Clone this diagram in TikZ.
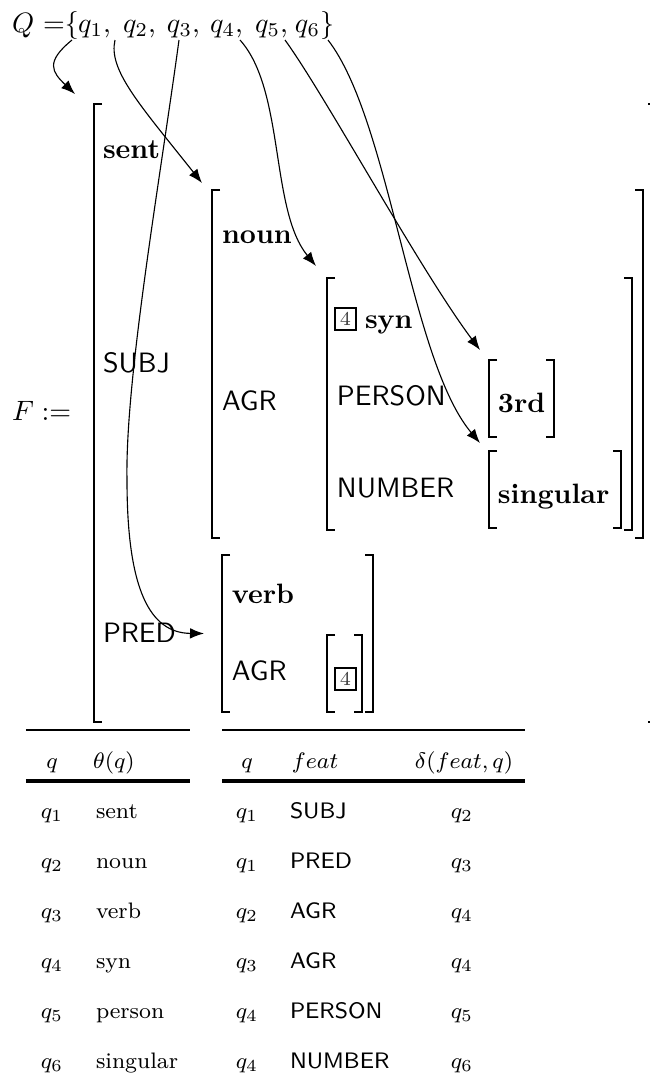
\documentclass[tikz,border=0pt]{standalone}
\usetikzlibrary{arrows.meta,fit}
\newcommand\avmnode[5]{\node[fit={(#2,#3)(#4,#5)},inner sep=0pt] (#1) {};}
\newcommand\lbrk[1]{\draw[brk] ([shift={(8,0)}]#1.north west) -- (#1.north west) -- (#1.south west) -- ([shift={(8,0)}]#1.south west);}
\newcommand\rbrk[1]{\draw[brk] ([shift={(-8,0)}]#1.north east) -- (#1.north east) -- (#1.south east) -- ([shift={(-8,0)}]#1.south east);}
\begin{document}
\begin{tikzpicture}[x=0.357pt,y=-0.357pt,
 every node/.style={inner sep=0pt, outer sep=0pt},
 lbl/.style={anchor=base west},
 sf/.style={anchor=base west, font=\sffamily},
 bfl/.style={anchor=base west, font=\bfseries},
 tag/.style={draw, line width=0.75pt, minimum width=7.6pt, minimum height=8pt, font=\scriptsize, text=black!75},
 brk/.style={line width=0.75pt},
 arr/.style={line width=0.4pt, -{Latex[length=5pt,width=3.8pt]}},
 tab/.style={font=\footnotesize, anchor=base},
 tabl/.style={font=\footnotesize, anchor=base west},
 tsf/.style={font=\footnotesize\sffamily, anchor=base west},
 rulethin/.style={line width=0.8pt},
 rulethick/.style={line width=1.1pt}]
\useasboundingbox (0,0) rectangle (650,1082);

% top line
\node[lbl] (Qs) at (12,32) {$Q$};
\node[lbl] (eqs) at (43,32) {$=$$\{$};
\node[lbl] (qa) at (78,32) {$q_1$,};
\node[lbl] (qb) at (123,32) {$q_2$,};
\node[lbl] (qc) at (167,32) {$q_3$,};
\node[lbl] (qd) at (210,32) {$q_4$,};
\node[lbl] (qe) at (255,32) {$q_5$,};
\node[lbl] (qf) at (295,32) {$q_6\}$};

% matrices
\avmnode{m1}{94}{104}{652}{722}
\avmnode{m2}{212}{190}{643}{538}
\avmnode{m3}{327}{278}{632}{530}
\avmnode{m5}{489}{360}{554}{437}
\avmnode{m6}{489}{451}{621}{528}
\avmnode{m4}{222}{555}{373}{712}
\avmnode{m7}{327}{635}{362}{712}
\lbrk{m1}
\draw[brk] ([shift={(-4,0)}]m1.north east) -- (m1.north east) -- (m1.south east) -- ([shift={(-4,0)}]m1.south east);
\foreach \m in {m2,m3,m5,m6,m4,m7} {\lbrk{\m}\rbrk{\m}}

% labels
\node[lbl] (F) at (12,420) {$F:=$};
\node[bfl] (sent) at (103,158) {sent};
\node[sf] (subj) at (103,372) {SUBJ};
\node[sf] (pred) at (103,642) {PRED};
\node[bfl] (noun) at (222,243) {noun};
\node[sf] (agr1) at (222,410) {AGR};
\node[tag] (tagA) at (345.5,319) {4};
\node[bfl] (syn) at (365,328) {syn};
\node[sf] (person) at (337,405) {PERSON};
\node[sf] (number) at (337,497) {NUMBER};
\node[bfl] (third) at (498,412) {3rd};
\node[bfl] (singular) at (498,503) {singular};
\node[bfl] (verb) at (232,603) {verb};
\node[sf] (agr2) at (232,680) {AGR};
\node[tag] (tagB) at (345.5,679) {4};

% arrows
\coordinate (s1) at (72,40);
\coordinate (s2) at (115,40);
\coordinate (s3) at (179,40);
\coordinate (s4) at (240,40);
\coordinate (s5) at (285,40);
\coordinate (s6) at (328,40);
\draw[arr] (s1) .. controls (45,62) and (52,72) .. ([shift={(-19,-10)}]m1.north west);
\draw[arr] (s2) .. controls (108,70) and (140,105) .. ([shift={(-10,-7)}]m2.north west);
\draw[arr] (s3) .. controls (160,180) and (125,380) .. (127,480) .. controls (127,590) and (150,633) .. ([shift={(-18,0)}]m4.west);
\draw[arr] (s4) .. controls (285,90) and (270,210) .. ([shift={(-11,-12)}]m3.north west);
\draw[arr] (s5) .. controls (325,95) and (420,270) .. ([shift={(-9,-10)}]m5.north west);
\draw[arr] (s6) .. controls (390,120) and (410,360) .. ([shift={(-9,-8)}]m6.north west);

% tables
\draw[rulethin] (26,730) -- (190,730);
\draw[rulethick] (26,781) -- (190,781);
\draw[rulethin] (222,730) -- (525,730);
\draw[rulethick] (222,781) -- (525,781);
\node[tab] (hq1) at (52,768) {$q$};
\node[tabl] (hth) at (93,768) {$\theta(q)$};
\node[tab] (hq2) at (247,768) {$q$};
\node[tabl] (hfe) at (292,768) {$feat$};
\node[tabl] (hde) at (415,768) {$\delta(feat,q)$};
\foreach \i/\n/\y in {1/sent/818, 2/noun/868, 3/verb/918, 4/syn/968, 5/person/1018, 6/singular/1068} {
 \node[tab] (lq\i) at (52,\y) {$q_\i$};
 \node[tabl] (ln\i) at (96,\y) {\n};
}
\foreach \i/\a/\f/\b/\y in {1/1/SUBJ/2/818, 2/1/PRED/3/868, 3/2/AGR/4/918, 4/3/AGR/4/968, 5/4/PERSON/5/1018, 6/4/NUMBER/6/1068} {
 \node[tab] (rq\i) at (247,\y) {$q_\a$};
 \node[tsf] (rf\i) at (290,\y) {\f};
 \node[tab] (rd\i) at (462,\y) {$q_\b$};
}
\end{tikzpicture}
\end{document}
